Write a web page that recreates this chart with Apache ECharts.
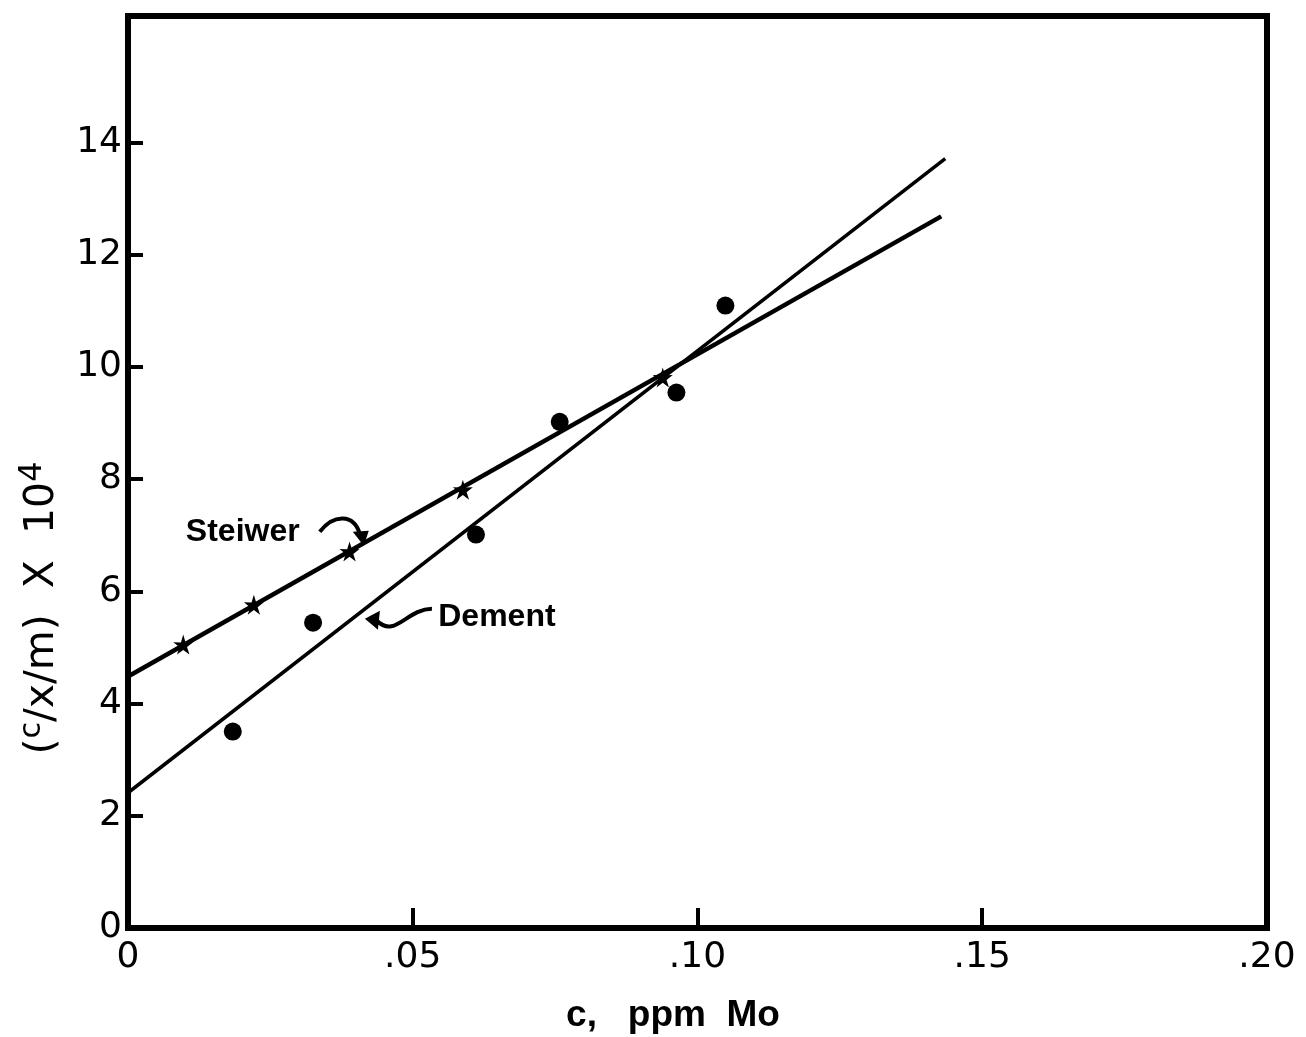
<!DOCTYPE html>
<html>
<head>
<meta charset="utf-8">
<script src="https://cdn.jsdelivr.net/npm/echarts@6/dist/echarts.min.js"></script>
<style>
  html, body { margin: 0; padding: 0; background: #fff; }
  #chart { width: 1306px; height: 1037px; }
</style>
</head>
<body>
<div id="chart"></div>
<script>
// Axis ticks
const xTicks = [0, 0.05, 0.10, 0.15, 0.20];
const yTicks = [0, 2, 4, 6, 8, 10, 12, 14];

// Measured points, c (ppm Mo) vs (c/x/m) x 10^4
const steiwerPts = [[0.0097, 5.05], [0.0221, 5.76], [0.0389, 6.71], [0.0588, 7.81], [0.0939, 9.81]];
const dementPts = [[0.0184, 3.50], [0.0325, 5.44], [0.0611, 7.01], [0.0758, 9.02], [0.0963, 9.54], [0.1049, 11.09]];

// Fitted straight lines (end points)
const steiwerFit = [[0, 4.48], [0.1428, 12.68]];
const dementFit = [[0, 2.41], [0.1435, 13.71]];

// Points the annotation arrows touch
const steiwerArrowTip = [0.0414, 6.81];
const dementArrowTip = [0.0416, 5.51];

const chart = echarts.init(document.getElementById('chart'), null, { renderer: 'canvas' });

const STAR = 'path://M0,-10 L2.2,-2.9 9.5,-3.1 3.6,1.3 5.9,8.1 0,3.9 -5.9,8.1 -3.6,1.3 -9.5,-3.1 -2.2,-2.9 Z';
const tickFont = { fontFamily: 'DejaVu Sans', fontSize: 36, color: '#000' };

chart.setOption({
  animation: false,
  backgroundColor: '#fff',
  grid: {
    left: 128, right: 39, top: 16, bottom: 109,
    show: true, borderColor: '#000', borderWidth: 6, backgroundColor: 'transparent'
  },
  xAxis: {
    type: 'value', min: 0, max: 0.2, interval: 0.05,
    axisLine: { show: false },
    splitLine: { show: false },
    axisTick: { show: true, inside: true, length: 20, lineStyle: { color: '#000', width: 4 }, customValues: [0.05, 0.10, 0.15] },
    axisLabel: Object.assign({
      margin: 12,
      customValues: xTicks,
      formatter: v => v === 0 ? '0' : '.' + String(Math.round(v * 100)).padStart(2, '0')
    }, tickFont)
  },
  yAxis: {
    type: 'value', min: 0, max: 16.25, interval: 2,
    axisLine: { show: false },
    splitLine: { show: false },
    axisTick: { show: true, inside: true, length: 15, lineStyle: { color: '#000', width: 4 }, customValues: yTicks.slice(1) },
    axisLabel: Object.assign({ margin: 6, customValues: yTicks, formatter: v => String(v) }, tickFont)
  },
  series: [
    {
      name: 'Steiwer fit', type: 'line', data: steiwerFit, symbol: 'none',
      lineStyle: { color: '#000', width: 4.5 }, z: 3
    },
    {
      name: 'Dement fit', type: 'line', data: dementFit, symbol: 'none',
      lineStyle: { color: '#000', width: 3.5 }, z: 3
    },
    {
      name: 'Steiwer', type: 'scatter', data: steiwerPts, symbol: STAR, symbolSize: 20,
      itemStyle: { color: '#000', opacity: 1 }, z: 4
    },
    {
      name: 'Dement', type: 'scatter', data: dementPts, symbol: 'circle', symbolSize: 18,
      itemStyle: { color: '#000', opacity: 1 }, z: 4
    }
  ]
});

// Annotations and axis titles
const sTip = chart.convertToPixel({ gridIndex: 0 }, steiwerArrowTip);
const dTip = chart.convertToPixel({ gridIndex: 0 }, dementArrowTip);
const bold = { fontFamily: 'Liberation Sans', fontWeight: 'bold', fill: '#000' };

chart.setOption({
  graphic: [
    {
      type: 'text', x: sTip[0] - 121, y: sTip[1] - 14,
      style: Object.assign({ text: 'Steiwer', fontSize: 32, align: 'center', verticalAlign: 'middle' }, bold)
    },
    {
      type: 'bezierCurve',
      shape: { x1: sTip[0] - 44, y1: sTip[1] - 14, cpx1: sTip[0] - 30, cpy1: sTip[1] - 32, cpx2: sTip[0] - 10, cpy2: sTip[1] - 32, x2: sTip[0] - 4, y2: sTip[1] - 12 },
      style: { stroke: '#000', lineWidth: 4, fill: null }
    },
    {
      type: 'polygon',
      shape: { points: [[sTip[0], sTip[1]], [sTip[0] - 11, sTip[1] - 14], [sTip[0] + 5, sTip[1] - 15]] },
      style: { fill: '#000' }
    },
    {
      type: 'text', x: dTip[0] + 132, y: dTip[1] - 2,
      style: Object.assign({ text: 'Dement', fontSize: 32, align: 'center', verticalAlign: 'middle' }, bold)
    },
    {
      type: 'bezierCurve',
      shape: { x1: dTip[0] + 12, y1: dTip[1] + 2, cpx1: dTip[0] + 30, cpy1: dTip[1] + 20, cpx2: dTip[0] + 42, cpy2: dTip[1] - 10, x2: dTip[0] + 67, y2: dTip[1] - 10 },
      style: { stroke: '#000', lineWidth: 4, fill: null }
    },
    {
      type: 'polygon',
      shape: { points: [[dTip[0], dTip[1]], [dTip[0] + 15, dTip[1] - 8], [dTip[0] + 13, dTip[1] + 11]] },
      style: { fill: '#000' }
    },
    {
      type: 'text', x: 673, y: 1016,
      style: Object.assign({ text: 'c,   ppm  Mo', fontSize: 37, align: 'center', verticalAlign: 'middle' }, bold)
    },
    {
      type: 'text', x: 42, y: 608, rotation: Math.PI / 2,
      style: {
        text: '({c|c}/x/m)  X  10{sup|4}',
        fontFamily: 'DejaVu Sans', fontSize: 41, fill: '#000',
        align: 'center', verticalAlign: 'middle', lineHeight: 50,
        rich: {
          c: { fontFamily: 'DejaVu Sans', fontSize: 30, verticalAlign: 'top', lineHeight: 50 },
          sup: { fontFamily: 'DejaVu Sans', fontSize: 32, verticalAlign: 'top', lineHeight: 50 }
        }
      }
    }
  ]
});
</script>
</body>
</html>
